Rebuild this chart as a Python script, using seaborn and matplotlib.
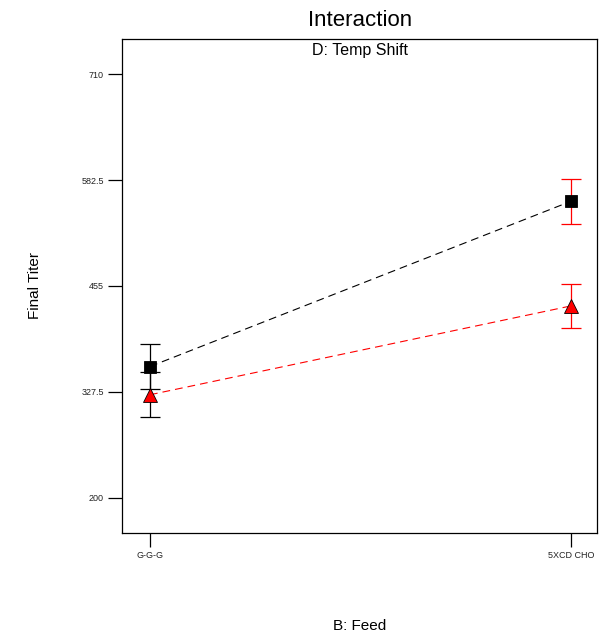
import matplotlib
matplotlib.use("Agg")
import matplotlib.pyplot as plt
import seaborn as sns
import pandas as pd

feeds = ["G-G-G", "5XCD CHO"]
series = ["D-", "D+"]
titer_black = [358.0, 557.0]
titer_red = [324.0, 431.0]
err_black = [27.0, 26.8]
err_red = [27.0, 26.8]
yticks = [200, 327.5, 455, 582.5, 710]
ytick_labels = ["200", "327.5", "455", "582.5", "710"]

sns.set_theme(style="white")
plt.rcParams["font.family"] = ["Liberation Sans", "DejaVu Sans"]

df = pd.DataFrame({
    "Feed": feeds * 2,
    "Titer": titer_black + titer_red,
    "Shift": [series[0]] * 2 + [series[1]] * 2,
})

fig = plt.figure(figsize=(6.03, 6.36), dpi=100)
ax = fig.add_axes([122 / 603, 1 - 533 / 636, 475 / 603, 494 / 636])

sns.pointplot(data=df, x="Feed", y="Titer", hue="Shift", order=feeds,
              hue_order=series, palette=["black", "red"], markers=["s", "^"],
              linestyles=["--", "--"], errorbar=None, ax=ax, legend=False,
              markersize=8.5, linewidth=0.8, zorder=3)
for ln in ax.lines:
    ln.set_markeredgecolor("black")
    ln.set_markeredgewidth(0.6)
    ln.set_dashes((7, 4.5))
    if ln.get_marker() == "^":
        ln.set_markersize(9.5)

bar_colors = ["black", "red"]
for i in range(len(feeds)):
    for vals, errs in ((titer_black, err_black), (titer_red, err_red)):
        ax.errorbar(i, vals[i], yerr=errs[i], fmt="none", ecolor=bar_colors[i],
                    elinewidth=0.9, capsize=7.2, capthick=0.9, zorder=2)

ax.set_xlim(-0.0665, 1.062)
ax.set_ylim(157.5, 752.5)
ax.set_yticks(yticks)
ax.set_yticklabels(ytick_labels)
ax.set_xticks([0, 1])
ax.set_xticklabels(feeds)
ax.tick_params(axis="both", direction="out", length=10, width=0.9, color="black",
               labelsize=6.5, labelcolor="#222222", pad=3,
               left=True, bottom=True)
for s in ax.spines.values():
    s.set_color("black")
    s.set_linewidth(0.9)
ax.set_xlabel("")
ax.set_ylabel("")

fig.text(360 / 603, 1 - 20 / 636, "Interaction", ha="center", va="center",
         fontsize=16, color="black")
fig.text(360 / 603, 1 - 51 / 636, "D: Temp Shift", ha="center", va="center",
         fontsize=11.5, color="black")
fig.text(35 / 603, 1 - 285 / 636, "Final Titer", ha="center", va="center",
         rotation=90, fontsize=11, color="black")
fig.text(360 / 603, 1 - 626 / 636, "B: Feed", ha="center", va="center",
         fontsize=11, color="black")

fig.savefig("out.png", dpi=100)
